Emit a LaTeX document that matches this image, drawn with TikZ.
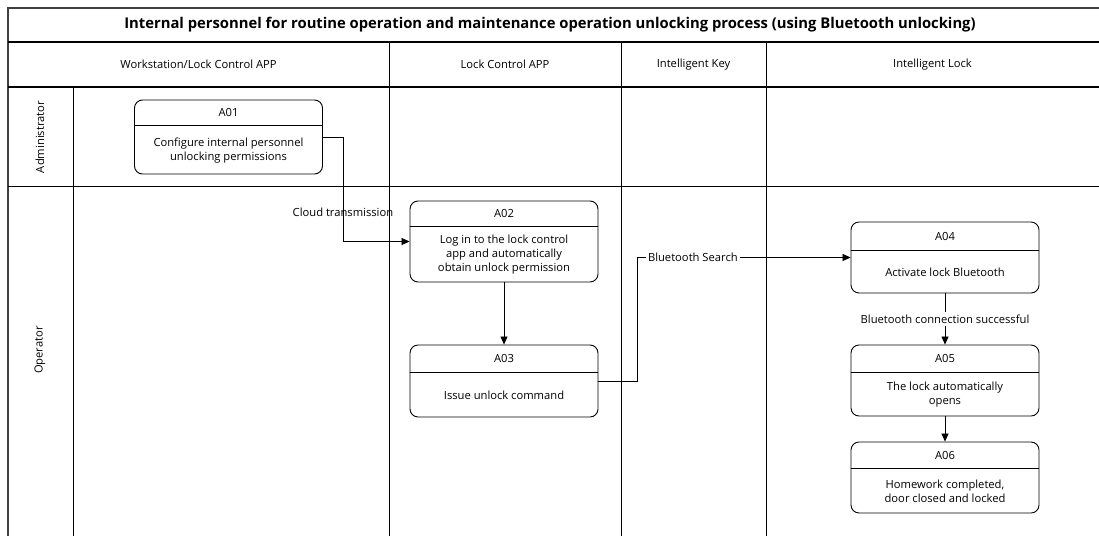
\documentclass[tikz,border=0pt]{standalone}
\usepackage{fontspec}
\setmainfont{Open Sans}
\usepackage{tikz}
\usetikzlibrary{arrows.meta,positioning}
\definecolor{framegray}{HTML}{404040}

\begin{document}
\begin{tikzpicture}[x=1pt,y=-1pt,>={Triangle[length=8pt,width=7pt]},font=\fontsize{11.2}{14}\selectfont,
 act/.style={draw,line width=.9pt,rounded corners=8pt,minimum width=188pt,inner sep=0pt},
 body/.style={align=center,inner sep=0pt},
 arr/.style={->,line width=.7pt},
 lane/.style={line width=.8pt},
 lab/.style={fill=white,inner sep=2.5pt}]
\path[use as bounding box] (0,0) rectangle (1099,536);
% swimlane frame
\draw[framegray,line width=1.6pt] (1099,8) -- (8,8) -- (8,536);
\draw[line width=1.1pt] (8,42) -- (1099,42);
\draw[line width=1.1pt] (8,87) -- (1099,87);
\draw[lane] (8,186) -- (1099,186);
\draw[lane] (73,87) -- (73,536);
\draw[lane] (389,42) -- (389,536);\draw[lane] (621,42) -- (621,536);\draw[lane] (766,42) -- (766,536);
\node[font=\fontsize{14.8}{17}\selectfont\bfseries] (title) at (550,25) {Internal personnel for routine operation and maintenance operation unlocking process (using Bluetooth unlocking)};
\node (colwork) at (198.5,64.5) {Workstation/Lock Control APP};
\node (colapp) at (505,64.5) {Lock Control APP};
\node (colkey) at (693.5,64.5) {Intelligent Key};
\node (collock) at (932.5,64.5) {Intelligent Lock};
\node[rotate=90] (rowadmin) at (40,137) {Administrator};
\node[rotate=90] (rowop) at (40,350) {Operator};
% activities
\node[act,minimum height=74pt] (a01) at (228.5,137) {};
\draw[line width=.9pt] ([yshift=-26pt]a01.north west) -- ([yshift=-26pt]a01.north east);
\node (a01h) at ([yshift=-13pt]a01.north) {A01};
\node[body] (a01b) at ([yshift=24pt]a01.south) {Configure internal personnel\\unlocking permissions};
\node[act,minimum height=81pt] (a02) at (504,241.5) {};
\draw[line width=.9pt] ([yshift=-26pt]a02.north west) -- ([yshift=-26pt]a02.north east);
\node (a02h) at ([yshift=-13pt]a02.north) {A02};
\node[body] (a02b) at ([yshift=27.5pt]a02.south) {Log in to the lock control\\app and automatically\\obtain unlock permission};
\node[act,minimum height=72pt] (a03) at (504,381) {};
\draw[line width=.9pt] ([yshift=-28pt]a03.north west) -- ([yshift=-28pt]a03.north east);
\node (a03h) at ([yshift=-14pt]a03.north) {A03};
\node[body] (a03b) at ([yshift=22pt]a03.south) {Issue unlock command};
\node[act,minimum height=71pt] (a04) at (945,257.5) {};
\draw[line width=.9pt] ([yshift=-29pt]a04.north west) -- ([yshift=-29pt]a04.north east);
\node (a04h) at ([yshift=-14.5pt]a04.north) {A04};
\node[body] (a04b) at ([yshift=21pt]a04.south) {Activate lock Bluetooth};
\node[act,minimum height=71pt] (a05) at (945,380.5) {};
\draw[line width=.9pt] ([yshift=-28pt]a05.north west) -- ([yshift=-28pt]a05.north east);
\node (a05h) at ([yshift=-14pt]a05.north) {A05};
\node[body] (a05b) at ([yshift=21.5pt]a05.south) {The lock automatically\\opens};
\node[act,minimum height=71pt] (a06) at (945,477.5) {};
\draw[line width=.9pt] ([yshift=-27pt]a06.north west) -- ([yshift=-27pt]a06.north east);
\node (a06h) at ([yshift=-13.5pt]a06.north) {A06};
\node[body] (a06b) at ([yshift=22pt]a06.south) {Homework completed,\\door closed and locked};
% connectors
\draw[arr] (a01.east) -- ++(20,0) |- node[pos=.36,inner sep=0pt] {Cloud transmission} (a02.west);
\draw[arr] (a02) -- (a03);
\draw[arr] (a03.east) -- ++(39,0) |- node[lab,pos=.63] {Bluetooth Search} (a04.west);
\draw[arr] (a04) -- node[lab] {Bluetooth connection successful} (a05);
\draw[arr] (a05) -- (a06);
\end{tikzpicture}
\end{document}
